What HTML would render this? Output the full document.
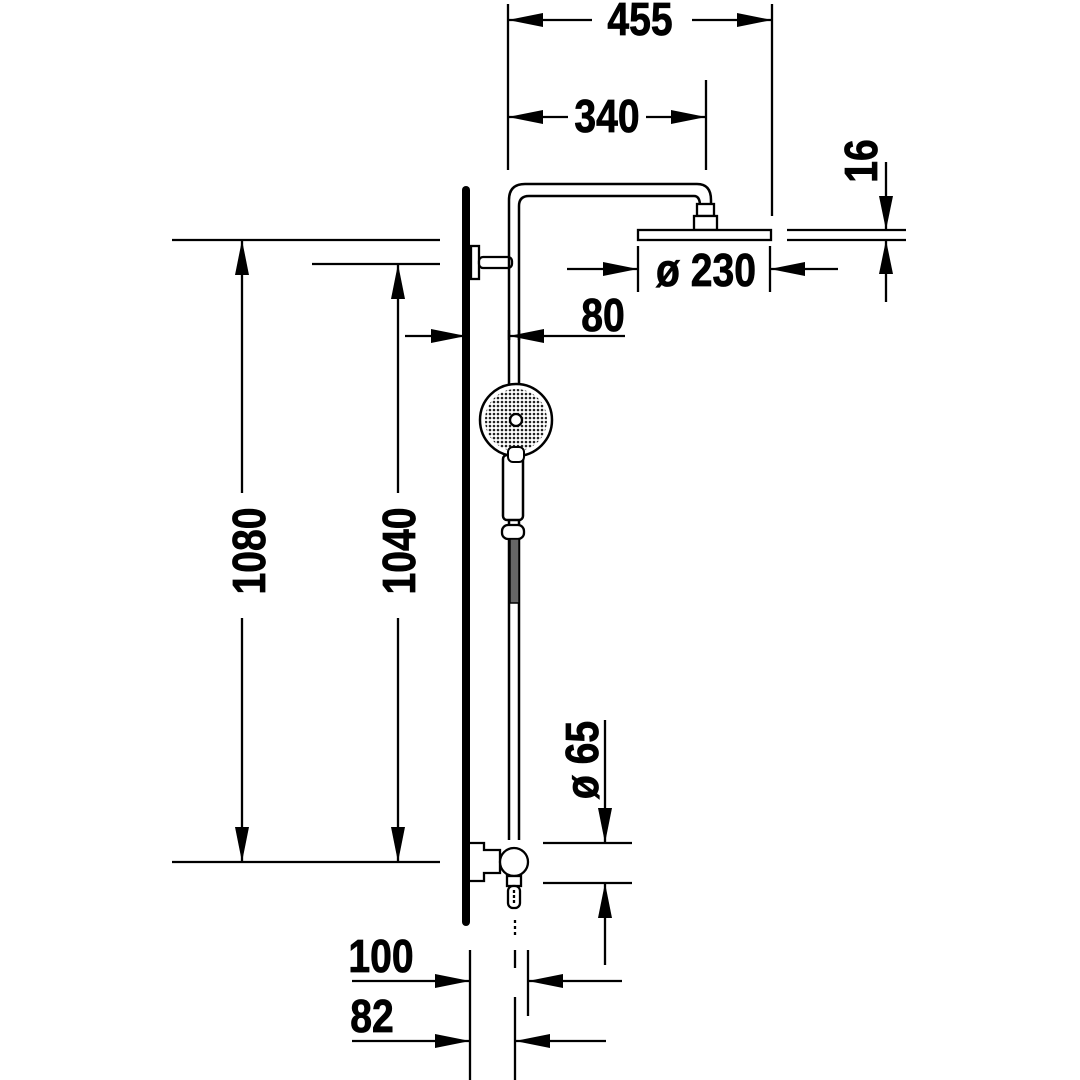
<!DOCTYPE html>
<html><head><meta charset="utf-8"><style>
html,body{margin:0;padding:0;background:#fff}
svg{display:block}
text{font-family:"Liberation Sans",sans-serif;font-weight:bold;font-size:46px;fill:#000;stroke:#000;stroke-width:0.8}
</style></head><body>
<svg width="1080" height="1080" viewBox="0 0 1080 1080" xmlns="http://www.w3.org/2000/svg">
<defs>
<pattern id="dots" width="4" height="4" patternUnits="userSpaceOnUse">
<circle cx="2" cy="2" r="1.3" fill="#222"/>
</pattern>
</defs>
<g stroke="#000" stroke-width="2.3" fill="none">
<line x1="508" y1="4" x2="508" y2="170"/>
<line x1="772" y1="4" x2="772" y2="216"/>
<line x1="508" y1="20" x2="592" y2="20"/>
<line x1="692" y1="20" x2="772" y2="20"/>
<line x1="706" y1="80" x2="706" y2="170"/>
<line x1="508" y1="117" x2="568" y2="117"/>
<line x1="646" y1="117" x2="706" y2="117"/>
<line x1="787" y1="230" x2="906" y2="230"/>
<line x1="787" y1="240" x2="906" y2="240"/>
<line x1="886" y1="162" x2="886" y2="230"/>
<line x1="886" y1="240" x2="886" y2="302"/>
<line x1="638" y1="246" x2="638" y2="292"/>
<line x1="770" y1="246" x2="770" y2="292"/>
<line x1="567" y1="269" x2="638" y2="269"/>
<line x1="770" y1="269" x2="838" y2="269"/>
<line x1="405" y1="336" x2="466" y2="336"/>
<line x1="509" y1="336" x2="625" y2="336"/>
<line x1="172" y1="240" x2="440" y2="240"/>
<line x1="312" y1="264" x2="440" y2="264"/>
<line x1="172" y1="862" x2="440" y2="862"/>
<line x1="242" y1="240" x2="242" y2="493"/>
<line x1="242" y1="618" x2="242" y2="862"/>
<line x1="398" y1="264" x2="398" y2="493"/>
<line x1="398" y1="618" x2="398" y2="862"/>
<line x1="543" y1="843" x2="632" y2="843"/>
<line x1="543" y1="883" x2="632" y2="883"/>
<line x1="605" y1="720" x2="605" y2="843"/>
<line x1="605" y1="883" x2="605" y2="965"/>
<line x1="470" y1="950" x2="470" y2="1080"/>
<line x1="528" y1="950" x2="528" y2="1016"/>
<line x1="515" y1="950" x2="515" y2="968"/>
<line x1="515" y1="997" x2="515" y2="1080"/>
<line x1="352" y1="981" x2="470" y2="981"/>
<line x1="528" y1="981" x2="622" y2="981"/>
<line x1="352" y1="1041" x2="470" y2="1041"/>
<line x1="515" y1="1041" x2="606" y2="1041"/>
<line x1="515" y1="920" x2="515" y2="935" stroke-dasharray="3,3"/>
</g>
<g fill="#000">
<polygon points="508,20 543,13 543,27"/><polygon points="772,20 737,13 737,27"/>
<polygon points="508,117 543,110 543,124"/><polygon points="706,117 671,110 671,124"/>
<polygon points="886,230 879,196 893,196"/><polygon points="886,240 879,274 893,274"/>
<polygon points="638,269 603,262 603,276"/><polygon points="770,269 805,262 805,276"/>
<polygon points="466,336 431,329 431,343"/><polygon points="509,336 544,329 544,343"/>
<polygon points="242,240 235,275 249,275"/><polygon points="242,862 235,827 249,827"/>
<polygon points="398,264 391,299 405,299"/><polygon points="398,862 391,827 405,827"/>
<polygon points="605,843 598,808 612,808"/><polygon points="605,883 598,918 612,918"/>
<polygon points="470,981 435,974 435,988"/><polygon points="528,981 563,974 563,988"/>
<polygon points="470,1041 435,1034 435,1048"/><polygon points="515,1041 550,1034 550,1048"/>
</g>
<line x1="466" y1="190" x2="466" y2="922" stroke="#000" stroke-width="8" stroke-linecap="round"/>
<g stroke="#000" stroke-width="2.3" fill="#fff">
<rect x="471" y="246" width="8" height="33"/>
<rect x="479" y="257" width="33" height="11" rx="4"/>
<path d="M509 340 L509 200 Q509 184 525 184 L697 184 Q711 184 711 200 L711 206" fill="none" stroke-width="2.5"/>
<path d="M519 340 L519 206 Q519 196 529 196 L694 196 Q700 196 700 206" fill="none" stroke-width="2.5"/>
<line x1="509" y1="330" x2="509" y2="840" stroke-width="2.5"/>
<line x1="519" y1="330" x2="519" y2="840" stroke-width="2.5"/>
<rect x="697" y="204" width="17" height="12"/>
<rect x="694" y="216" width="23" height="14"/>
<rect x="638" y="230" width="133" height="10"/>
<rect x="503" y="455" width="20" height="65" rx="4" stroke-width="2.5"/>
<circle cx="516" cy="420" r="36" stroke-width="2.5"/>
<circle cx="516" cy="420" r="31" fill="url(#dots)" stroke="none"/>
<circle cx="516" cy="420" r="6" fill="#fff"/>
<rect x="508" y="447" width="16" height="15" rx="5" stroke-width="2"/>
<rect x="502" y="525" width="22" height="14" rx="6"/>
<rect x="510" y="539" width="9" height="64" fill="#666" stroke-width="1.5"/>
<path d="M470 843 L484 843 L484 850 L500 850 L500 873 L484 873 L484 881 L470 881" fill="#fff"/>
<circle cx="514" cy="862" r="14"/>
<rect x="507" y="876" width="14" height="10"/>
<rect x="508" y="886" width="12" height="22" rx="5"/>
<line x1="514" y1="890" x2="514" y2="905" stroke-dasharray="3,2"/>
</g>
<g>
<text x="640" y="35" text-anchor="middle" transform="translate(640 0) scale(0.85 1) translate(-640 0)">455</text>
<text x="607" y="132" text-anchor="middle" transform="translate(607 0) scale(0.85 1) translate(-607 0)">340</text>
<text x="706" y="286" text-anchor="middle" transform="translate(706 0) scale(0.85 1) translate(-706 0)">ø 230</text>
<text x="603" y="331" text-anchor="middle" transform="translate(603 0) scale(0.85 1) translate(-603 0)">80</text>
<text x="381" y="972" text-anchor="middle" transform="translate(381 0) scale(0.85 1) translate(-381 0)">100</text>
<text x="372" y="1032" text-anchor="middle" transform="translate(372 0) scale(0.85 1) translate(-372 0)">82</text>
<text transform="translate(265 551) rotate(-90) scale(0.85 1)" text-anchor="middle">1080</text>
<text transform="translate(415 551) rotate(-90) scale(0.85 1)" text-anchor="middle">1040</text>
<text transform="translate(877 161) rotate(-90) scale(0.85 1)" text-anchor="middle">16</text>
<text transform="translate(598 760) rotate(-90) scale(0.85 1)" text-anchor="middle">ø 65</text>
</g>
</svg>
</body></html>
